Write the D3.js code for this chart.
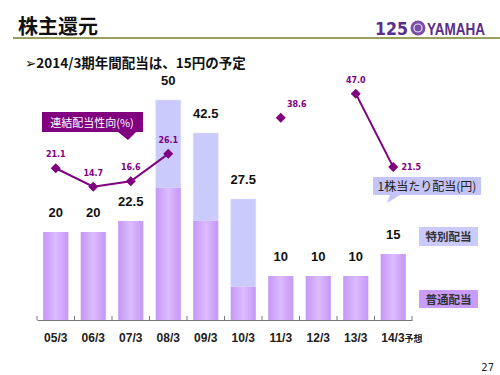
<!DOCTYPE html>
<html>
<head>
<meta charset="utf-8">
<script src="https://cdn.jsdelivr.net/npm/d3@7"></script>
<style>
  body { margin: 0; background: #fff; }
  svg { display: block; font-family: "Noto Sans CJK JP", "DejaVu Sans", sans-serif; }
</style>
</head>
<body>
<div id="chart"></div>
<script>
// dividend per share (yen) and consolidated payout ratio (%)
const years = ['05/3', '06/3', '07/3', '08/3', '09/3', '10/3', '11/3', '12/3', '13/3', '14/3'];
const normal = [20, 20, 22.5, 30, 22.5, 7.5, 10, 10, 10, 15];
const special = [0, 0, 0, 20, 20, 20, 0, 0, 0, 0];
const totals = ['20', '20', '22.5', '50', '42.5', '27.5', '10', '10', '10', '15'];
const payout = [21.1, 14.7, 16.6, 26.1, null, null, 38.6, null, 47.0, 21.5];
const payoutText = ['21.1', '14.7', '16.6', '26.1', '', '', '38.6', '', '47.0', '21.5'];

const W = 500, H = 375;
const svg = d3.select('#chart').append('svg').attr('width', W).attr('height', H);

const defs = svg.append('defs');
const grad = defs.append('linearGradient').attr('id', 'barGrad')
  .attr('x1', '0%').attr('x2', '100%').attr('y1', '0%').attr('y2', '0%');
grad.append('stop').attr('offset', '0%').attr('stop-color', '#c597f6');
grad.append('stop').attr('offset', '50%').attr('stop-color', '#dcbcff');
grad.append('stop').attr('offset', '100%').attr('stop-color', '#c597f6');

// header
svg.append('text').attr('x', 18).attr('y', 34)
  .attr('font-size', 20).attr('font-weight', 'bold').attr('fill', '#111').text('株主還元');
svg.append('line').attr('x1', 13).attr('x2', 500).attr('y1', 38).attr('y2', 38)
  .attr('stroke', '#9aa05c').attr('stroke-width', 2);

// logo
const logo = svg.append('g').attr('fill', '#5b2e8c');
logo.append('text').attr('x', 375).attr('y', 35).attr('font-size', 17).attr('font-weight', 900)
  .attr('font-family', 'DejaVu Sans').attr('textLength', 33).attr('lengthAdjust', 'spacingAndGlyphs').text('125');
logo.append('circle').attr('cx', 418).attr('cy', 28).attr('r', 7.5).attr('fill', '#7a4fa8');
logo.append('circle').attr('cx', 418).attr('cy', 28).attr('r', 4).attr('fill', 'none')
  .attr('stroke', '#e8dcf4').attr('stroke-width', 1.2);
logo.append('text').attr('x', 427).attr('y', 35).attr('font-size', 17).attr('font-weight', 'bold')
  .attr('font-family', 'Liberation Sans').attr('textLength', 58).attr('lengthAdjust', 'spacingAndGlyphs').text('YAMAHA');

svg.append('text').attr('x', 25).attr('y', 68)
  .attr('font-size', 13.5).attr('font-weight', 'bold').attr('fill', '#111')
  .text('➢2014/3期年間配当は、15円の予定');

// scales
const x = d3.scaleBand().domain(years).range([37, 412]).paddingInner(0.33).paddingOuter(0.165);
const y = d3.scaleLinear().domain([0, 50]).range([320, 100]);
const yLine = d3.scaleLinear().domain([0, 50]).range([229, 85]);

// bars
const bars = svg.append('g');
bars.selectAll('.special').data(years.filter((d, i) => special[i] > 0))
  .join('rect').attr('class', 'special')
  .attr('x', d => x(d)).attr('width', x.bandwidth())
  .attr('y', d => { const i = years.indexOf(d); return y(normal[i] + special[i]); })
  .attr('height', d => { const i = years.indexOf(d); return y(normal[i]) - y(normal[i] + special[i]); })
  .attr('fill', '#cacafc').attr('stroke', '#e0e0ff').attr('stroke-dasharray', '1,1');
bars.selectAll('.normal').data(years)
  .join('rect').attr('class', 'normal')
  .attr('x', d => x(d)).attr('width', x.bandwidth())
  .attr('y', (d, i) => y(normal[i]))
  .attr('height', (d, i) => y(0) - y(normal[i]))
  .attr('fill', 'url(#barGrad)');

bars.selectAll('.total').data(years)
  .join('text').attr('class', 'total')
  .attr('x', d => x(d) + x.bandwidth() / 2)
  .attr('y', (d, i) => y(normal[i] + special[i]) - 15)
  .attr('text-anchor', 'middle').attr('font-size', 13).attr('font-weight', 'bold')
  .attr('font-family', 'Liberation Sans').attr('fill', '#111')
  .text((d, i) => totals[i]);

// axis
const axis = svg.append('g').attr('transform', 'translate(0,320)')
  .call(d3.axisBottom(x).tickSize(0).tickFormat(''));
axis.select('.domain').attr('stroke', '#777');
const bounds = d3.range(years.length + 1).map(i => 37 + i * x.step());
axis.selectAll('.tk').data(bounds).join('line').attr('class', 'tk')
  .attr('x1', d => d).attr('x2', d => d).attr('y1', -4).attr('y2', 0).attr('stroke', '#777');

const lbl = svg.append('g').attr('font-size', 12).attr('font-weight', 'bold').attr('fill', '#222')
  .attr('font-family', 'Liberation Sans');
lbl.selectAll('text').data(years).join('text')
  .attr('x', d => x(d) + x.bandwidth() / 2 - (d === '14/3' ? 12 : 0))
  .attr('y', 342).attr('text-anchor', d => d === '14/3' ? 'start' : 'middle')
  .text(d => d)
  .append('tspan').attr('font-size', 9).attr('font-family', 'Noto Sans CJK JP')
  .text(d => d === '14/3' ? '予想' : '');

// payout ratio line
const pts = years.map((d, i) => ({ yr: d, v: payout[i], t: payoutText[i] }));
const line = d3.line()
  .defined(d => d.v != null)
  .x(d => x(d.yr) + x.bandwidth() / 2)
  .y(d => yLine(d.v));
// 11/3 point stands alone, so break the line before and after it
const segs = [pts.slice(0, 4), pts.slice(8, 10)];
svg.append('g').selectAll('path').data(segs).join('path')
  .attr('d', line).attr('fill', 'none').attr('stroke', '#800080').attr('stroke-width', 2);

const marks = pts.filter(d => d.v != null);
svg.append('g').selectAll('path').data(marks).join('path')
  .attr('d', d3.symbol(d3.symbolSquare, 50))
  .attr('transform', d => `translate(${x(d.yr) + x.bandwidth() / 2},${yLine(d.v)}) rotate(45)`)
  .attr('fill', '#800080');

svg.append('g').selectAll('text').data(marks).join('text')
  .attr('x', d => {
    const cx = x(d.yr) + x.bandwidth() / 2;
    return d.yr === '11/3' ? cx + 16 : d.yr === '14/3' ? cx + 18 : cx;
  })
  .attr('y', d => {
    const cy = yLine(d.v);
    return d.yr === '14/3' ? cy + 3 : cy - 11;
  })
  .attr('text-anchor', 'middle').attr('font-size', 8).attr('font-weight', 'bold')
  .attr('font-family', 'DejaVu Sans').attr('fill', '#800080')
  .text(d => d.t);

// callouts
const c1 = svg.append('g');
c1.append('path').attr('d', 'M42,112 H143 V132 H136 L128,140 L118,132 H42 Z').attr('fill', '#800080');
c1.append('text').attr('x', 92).attr('y', 127).attr('text-anchor', 'middle')
  .attr('font-size', 11).attr('fill', '#fff').text('連結配当性向(%)');

const c2 = svg.append('g');
c2.append('path').attr('d', 'M373,177 H481 V195 H400 L387,203 L390,195 H373 Z').attr('fill', '#c4c4fa');
c2.append('text').attr('x', 427).attr('y', 190.5).attr('text-anchor', 'middle')
  .attr('font-size', 12).attr('fill', '#222').text('1株当たり配当(円)');

// legend
svg.append('rect').attr('x', 419).attr('y', 227).attr('width', 59).attr('height', 19).attr('fill', '#cacafc');
svg.append('text').attr('x', 448.5).attr('y', 241).attr('text-anchor', 'middle')
  .attr('font-size', 11.5).attr('font-weight', 'bold').attr('fill', '#333').text('特別配当');
svg.append('rect').attr('x', 419).attr('y', 290).attr('width', 59).attr('height', 18).attr('fill', '#c99cf8');
svg.append('text').attr('x', 448.5).attr('y', 303.5).attr('text-anchor', 'middle')
  .attr('font-size', 11.5).attr('font-weight', 'bold').attr('fill', '#333').text('普通配当');

svg.append('text').attr('x', 494).attr('y', 371).attr('text-anchor', 'end')
  .attr('font-size', 10).attr('fill', '#222').attr('font-family', 'DejaVu Sans').text('27');
</script>
</body>
</html>
